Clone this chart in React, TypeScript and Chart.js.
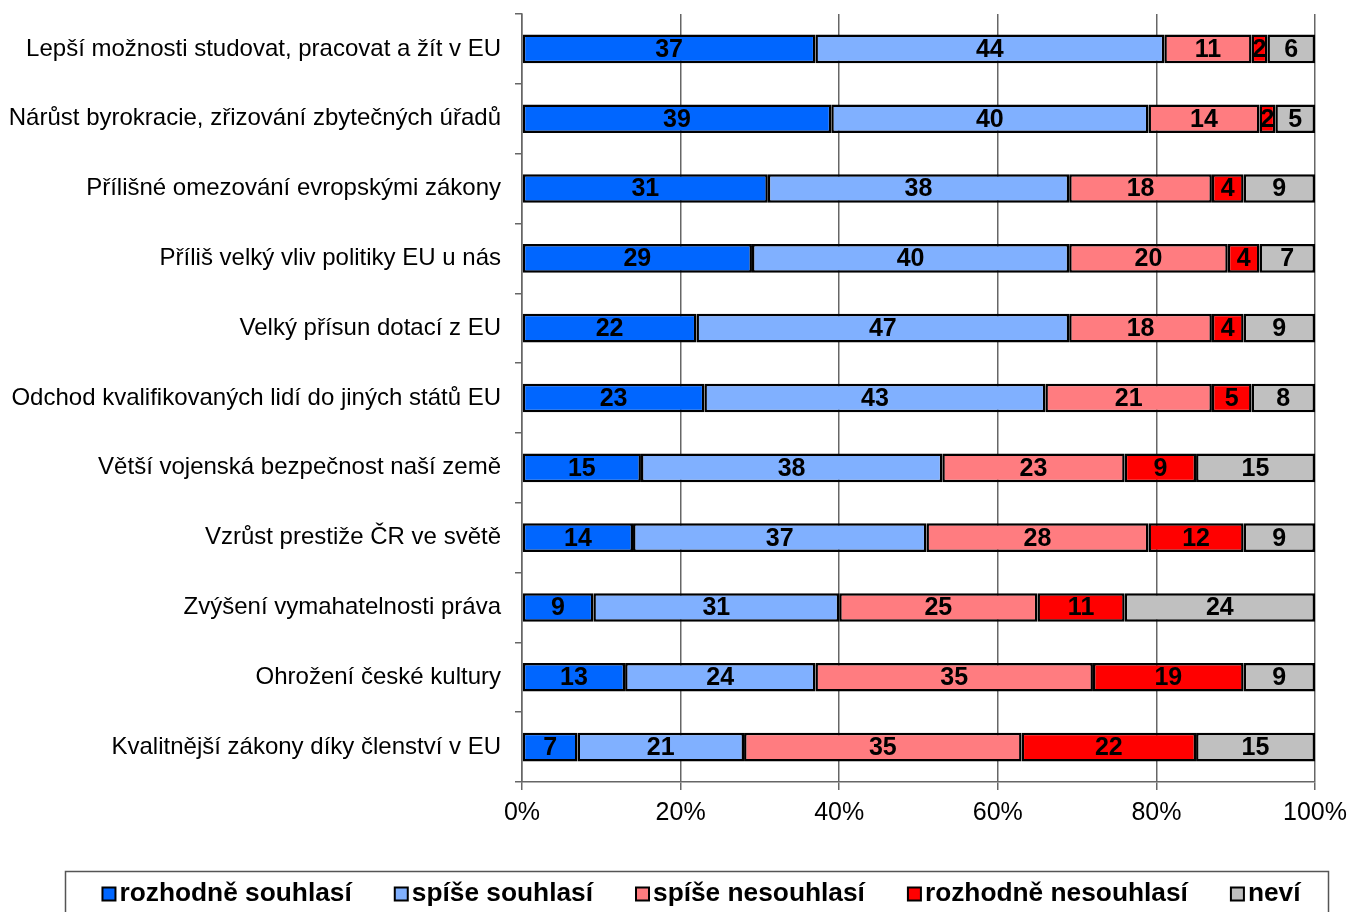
import React, { useEffect, useRef } from "react";
import { Chart, registerables } from "chart.js";

Chart.register(...registerables);

const categories = [
  "Lepší možnosti studovat, pracovat a žít v EU",
  "Nárůst byrokracie, zřizování zbytečných úřadů",
  "Přílišné omezování evropskými zákony",
  "Příliš velký vliv politiky EU u nás",
  "Velký přísun dotací z EU",
  "Odchod kvalifikovaných lidí do jiných států EU",
  "Větší vojenská bezpečnost naší země",
  "Vzrůst prestiže ČR ve světě",
  "Zvýšení vymahatelnosti práva",
  "Ohrožení české kultury",
  "Kvalitnější zákony díky členství v EU",
];

const seriesLabels = [
  "rozhodně souhlasí",
  "spíše souhlasí",
  "spíše nesouhlasí",
  "rozhodně nesouhlasí",
  "neví",
];

const rozhodneSouhlasi = [37, 39, 31, 29, 22, 23, 15, 14, 9, 13, 7];
const spiseSouhlasi = [44, 40, 38, 40, 47, 43, 38, 37, 31, 24, 21];
const spiseNesouhlasi = [11, 14, 18, 20, 18, 21, 23, 28, 25, 35, 35];
const rozhodneNesouhlasi = [2, 2, 4, 4, 4, 5, 9, 12, 11, 19, 22];
const nevi = [6, 5, 9, 7, 9, 8, 15, 9, 24, 9, 15];

const xTicks = [0, 20, 40, 60, 80, 100];

const colors = ["#0066ff", "#80b0ff", "#ff7c80", "#ff0000", "#c0c0c0"];

const FONT = "'Liberation Sans', Arial, sans-serif";

const valueLabelPlugin = {
  id: "valueLabels",
  afterDatasetsDraw(chart: any) {
    const ctx = chart.ctx;
    ctx.save();
    ctx.font = `bold 25px ${FONT}`;
    ctx.fillStyle = "#000";
    ctx.textAlign = "center";
    ctx.textBaseline = "middle";
    chart.data.datasets.forEach((ds: any, di: number) => {
      const meta = chart.getDatasetMeta(di);
      meta.data.forEach((bar: any, i: number) => {
        const v = ds.data[i];
        const cx = (bar.x + bar.base) / 2;
        ctx.fillText(String(v), cx, bar.y + 1);
      });
    });
    ctx.restore();
  },
};

const legendBoxPlugin = {
  id: "legendBox",
  afterDraw(chart: any) {
    const ctx = chart.ctx;
    ctx.save();
    ctx.strokeStyle = "#555";
    ctx.lineWidth = 1.5;
    ctx.strokeRect(65.5, 871.5, 1263, 60);
    ctx.font = `bold 26.3px ${FONT}`;
    ctx.textBaseline = "middle";
    ctx.textAlign = "left";
    const box = 13;
    const gap = 4;
    const spacing = 43;
    const items = chart.data.datasets.map((ds: any) => ({
      label: ds.label,
      color: ds.backgroundColor,
      w: ctx.measureText(ds.label).width,
    }));
    const total =
      items.reduce((s: number, it: any) => s + box + gap + it.w, 0) +
      spacing * (items.length - 1);
    let x = 701.5 - total / 2;
    const cy = 894;
    items.forEach((it: any) => {
      ctx.fillStyle = it.color;
      ctx.fillRect(x, cy - box / 2, box, box);
      ctx.strokeStyle = "#000";
      ctx.lineWidth = 2;
      ctx.strokeRect(x, cy - box / 2, box, box);
      ctx.fillStyle = "#000";
      ctx.fillText(it.label, x + box + gap, cy);
      x += box + gap + it.w + spacing;
    });
    ctx.restore();
  },
};

export default function App() {
  const ref = useRef<HTMLCanvasElement | null>(null);

  useEffect(() => {
    document.body.style.margin = "0";
    const seriesData = [
      rozhodneSouhlasi,
      spiseSouhlasi,
      spiseNesouhlasi,
      rozhodneNesouhlasi,
      nevi,
    ];
    const chart = new Chart(ref.current as HTMLCanvasElement, {
      type: "bar",
      data: {
        labels: categories,
        datasets: seriesLabels.map((label, i) => ({
          label,
          data: seriesData[i],
          backgroundColor: colors[i],
          borderColor: "#000",
          borderWidth: 2.5,
          borderSkipped: false,
          barPercentage: 0.41,
          categoryPercentage: 1,
        })),
      },
      options: {
        indexAxis: "y",
        animation: false,
        responsive: false,
        maintainAspectRatio: false,
        layout: { padding: { top: 14, right: 36, bottom: 70, left: 0 } },
        plugins: {
          legend: { display: false },
          tooltip: { enabled: false },
        },
        scales: {
          x: {
            stacked: true,
            min: 0,
            max: 100,
            afterBuildTicks(scale: any) {
              scale.ticks = xTicks.map((v) => ({ value: v }));
            },
            afterFit(scale: any) {
              scale.height = 60;
              scale.paddingLeft = 0;
              scale.paddingRight = 0;
            },
            ticks: {
              callback: (v: any) => v + "%",
              font: { family: FONT, size: 25 },
              color: "#000",
              padding: 8,
              maxRotation: 0,
            },
            grid: {
              color: "#666",
              lineWidth: 1.5,
              tickLength: 8,
              drawOnChartArea: true,
            },
            border: { display: true, color: "#666", width: 1.5 },
          },
          y: {
            stacked: true,
            afterFit(scale: any) {
              scale.width = 522;
              scale.paddingTop = 0;
              scale.paddingBottom = 0;
            },
            ticks: {
              font: { family: FONT, size: 24 },
              color: "#000",
              padding: 14,
            },
            grid: {
              offset: true,
              drawOnChartArea: false,
              color: "#666",
              lineWidth: 1.5,
              tickLength: 7,
            },
            border: { display: true, color: "#666", width: 1.5 },
          },
        },
      },
      plugins: [valueLabelPlugin, legendBoxPlugin],
    });
    return () => chart.destroy();
  }, []);

  return (
    <div style={{ position: "absolute", left: 0, top: 0, width: 1351, height: 912 }}>
      <canvas ref={ref} width={1351} height={912} />
    </div>
  );
}
